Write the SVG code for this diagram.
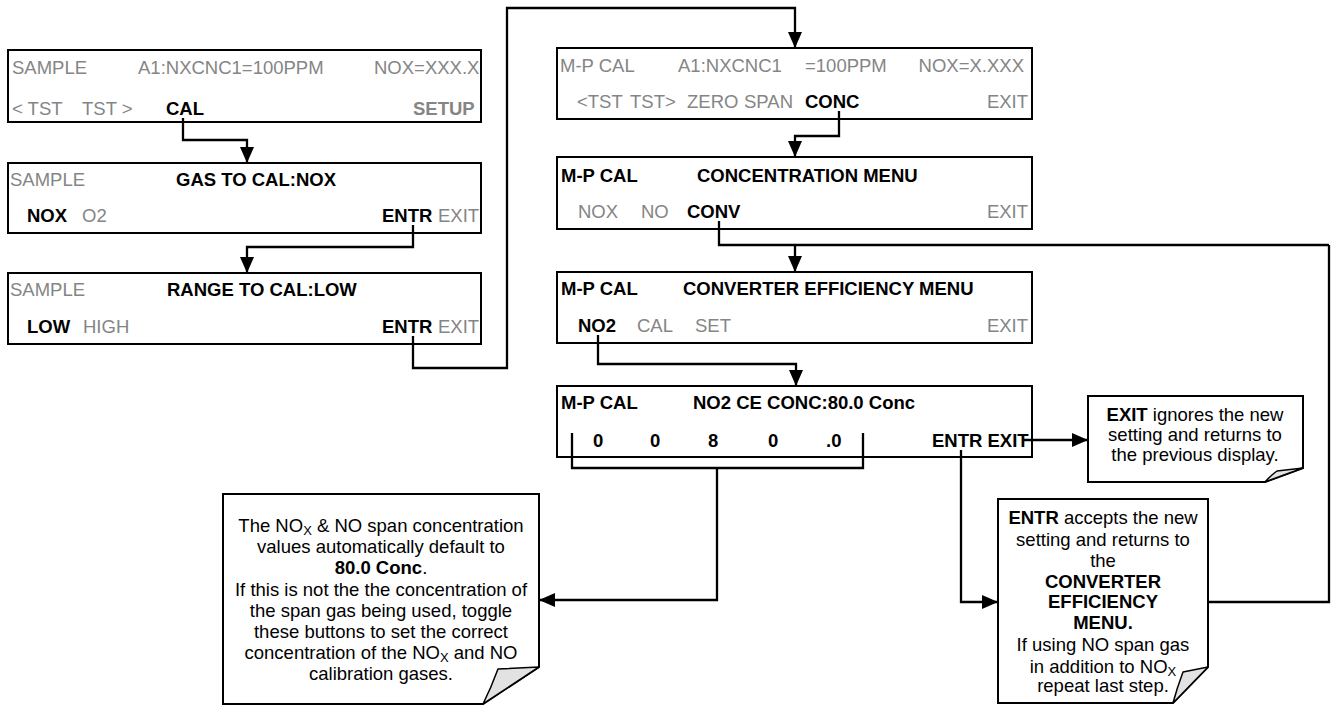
<svg xmlns="http://www.w3.org/2000/svg" width="1331" height="705" viewBox="0 0 1331 705">
<style>
.box{fill:#fff;stroke:#000;stroke-width:2}
text{font-family:"Liberation Sans",Arial,sans-serif;font-size:18.5px;fill:#000}
.g{fill:#858585}
.b{font-weight:bold}
.con{fill:none;stroke:#000;stroke-width:2.3}
.note{fill:#fff;stroke:#000;stroke-width:2}
.flap{fill:#e2e2e2;stroke:#000;stroke-width:1.5;stroke-linejoin:round}
.c{text-anchor:middle}
.r{text-anchor:end}
</style>
<defs>
<marker id="ah" markerWidth="16" markerHeight="14" refX="16" refY="7" orient="auto" markerUnits="userSpaceOnUse">
<path d="M0,0 L16,7 L0,14 Z" fill="#000"/>
</marker>
</defs>

<g id="box1">
<rect class="box" x="8" y="50" width="473" height="72"/>
<text class="g" x="12" y="74">SAMPLE</text>
<text class="g" x="138" y="74">A1:NXCNC1=100PPM</text>
<text class="g" x="374" y="74">NOX=XXX.X</text>
<text class="g" x="12" y="115">&lt; TST</text>
<text class="g" x="82" y="115">TST &gt;</text>
<text class="b" x="166" y="115">CAL</text>
<text class="g b" x="413" y="115">SETUP</text>
</g>

<g id="box2">
<rect class="box" x="8" y="163" width="473" height="70"/>
<text class="g" x="10" y="186">SAMPLE</text>
<text class="b" x="176" y="186">GAS TO CAL:NOX</text>
<text class="b" x="27" y="222">NOX</text>
<text class="g" x="82" y="222">O2</text>
<text class="b" x="382" y="222">ENTR</text>
<text class="g" x="438" y="222">EXIT</text>
</g>

<g id="box3">
<rect class="box" x="8" y="273" width="473" height="71"/>
<text class="g" x="10" y="296">SAMPLE</text>
<text class="b" x="167" y="296">RANGE TO CAL:LOW</text>
<text class="b" x="27" y="333">LOW</text>
<text class="g" x="83" y="333">HIGH</text>
<text class="b" x="382" y="333">ENTR</text>
<text class="g" x="438" y="333">EXIT</text>
</g>

<g id="box4">
<rect class="box" x="557" y="48" width="475" height="71"/>
<text class="g" x="560" y="72">M-P CAL</text>
<text class="g" x="678" y="72">A1:NXCNC1</text>
<text class="g" x="805" y="72">=100PPM</text>
<text class="g r" x="1024" y="72">NOX=X.XXX</text>
<text class="g" x="577" y="108">&lt;TST</text>
<text class="g" x="630" y="108">TST&gt;</text>
<text class="g" x="687" y="108">ZERO</text>
<text class="g" x="744" y="108">SPAN</text>
<text class="b" x="805" y="108">CONC</text>
<text class="g r" x="1028" y="108">EXIT</text>
</g>

<g id="box5">
<rect class="box" x="557" y="157" width="475" height="72"/>
<text class="b" x="561" y="182">M-P CAL</text>
<text class="b" x="697" y="182">CONCENTRATION MENU</text>
<text class="g" x="578" y="218">NOX</text>
<text class="g" x="641" y="218">NO</text>
<text class="b" x="687" y="218">CONV</text>
<text class="g r" x="1028" y="218">EXIT</text>
</g>

<g id="box6">
<rect class="box" x="557" y="272" width="475" height="71"/>
<text class="b" x="561" y="295">M-P CAL</text>
<text class="b" x="683" y="295">CONVERTER EFFICIENCY MENU</text>
<text class="b" x="578" y="332">NO2</text>
<text class="g" x="637" y="332">CAL</text>
<text class="g" x="695" y="332">SET</text>
<text class="g r" x="1028" y="332">EXIT</text>
</g>

<g id="box7">
<rect class="box" x="557" y="386" width="475" height="71"/>
<text class="b" x="561" y="409">M-P CAL</text>
<text class="b" x="693" y="409">NO2 CE CONC:80.0 Conc</text>
<text class="b" x="593" y="447">0</text>
<text class="b" x="650" y="447">0</text>
<text class="b" x="708" y="447">8</text>
<text class="b" x="768" y="447">0</text>
<text class="b" x="826" y="447">.0</text>
<text class="b" x="932" y="447">ENTR EXIT</text>
</g>

<g id="note-left">
<path class="note" d="M223,494 H539 V667 L483,704 H223 Z"/>
<path class="flap" d="M539,667 L498,669 Q491,688 483,704 Z"/>
<text class="c" x="381" y="532">The NO<tspan font-size="13" dy="3">X</tspan><tspan dy="-3"> &amp; NO span concentration</tspan></text>
<text class="c" x="381" y="553">values automatically default to</text>
<text class="c" x="381" y="574"><tspan class="b">80.0 Conc</tspan>.</text>
<text class="c" x="381" y="596">If this is not the the concentration of</text>
<text class="c" x="381" y="617">the span gas being used, toggle</text>
<text class="c" x="381" y="638">these buttons to set the correct</text>
<text class="c" x="381" y="659">concentration of the NO<tspan font-size="13" dy="3">X</tspan><tspan dy="-3"> and NO</tspan></text>
<text class="c" x="381" y="680">calibration gases.</text>
</g>

<g id="note-exit">
<path class="note" d="M1088,396 H1303 V468 L1265,482 H1088 Z"/>
<path class="flap" d="M1303,468 L1277,471 Q1270,476 1265,482 Z"/>
<text class="c" x="1195" y="421"><tspan class="b">EXIT</tspan> ignores the new</text>
<text class="c" x="1195" y="441">setting and returns to</text>
<text class="c" x="1195" y="461">the previous display.</text>
</g>

<g id="note-entr">
<path class="note" d="M998,499 H1208 V667 L1173,703 H998 Z"/>
<path class="flap" d="M1208,667 L1183,672 Q1177,688 1173,703 Z"/>
<text class="c" x="1103" y="524"><tspan class="b">ENTR</tspan> accepts the new</text>
<text class="c" x="1103" y="546">setting and returns to</text>
<text class="c" x="1103" y="567">the</text>
<text class="c b" x="1103" y="588">CONVERTER</text>
<text class="c b" x="1103" y="608">EFFICIENCY</text>
<text class="c b" x="1103" y="629">MENU.</text>
<text class="c" x="1103" y="651">If using NO span gas</text>
<text class="c" x="1103" y="673">in addition to NO<tspan font-size="13" dy="3">X</tspan></text>
<text class="c" x="1103" y="692">repeat last step.</text>
</g>

<g id="connectors">
<path class="con" d="M183,118 V140 H247 V163" marker-end="url(#ah)"/>
<path class="con" d="M413,225 V247 H247 V273" marker-end="url(#ah)"/>
<path class="con" d="M413,336 V368 H507 V8 H795 V48" marker-end="url(#ah)"/>
<path class="con" d="M839,111 V136 H795 V157" marker-end="url(#ah)"/>
<path class="con" d="M719,221 V245 H1329"/>
<path class="con" d="M795,245 V272" marker-end="url(#ah)"/>
<path class="con" d="M598,335 V364 H796 V386" marker-end="url(#ah)"/>
<path class="con" d="M572,433 V468 H863 V433"/>
<path class="con" d="M717,468 V600 H539" marker-end="url(#ah)"/>
<path class="con" d="M1024,440 H1088" marker-end="url(#ah)"/>
<path class="con" d="M961,450 V602 H998" marker-end="url(#ah)"/>
<path class="con" d="M1208,602 H1329 V245"/>
</g>
</svg>
